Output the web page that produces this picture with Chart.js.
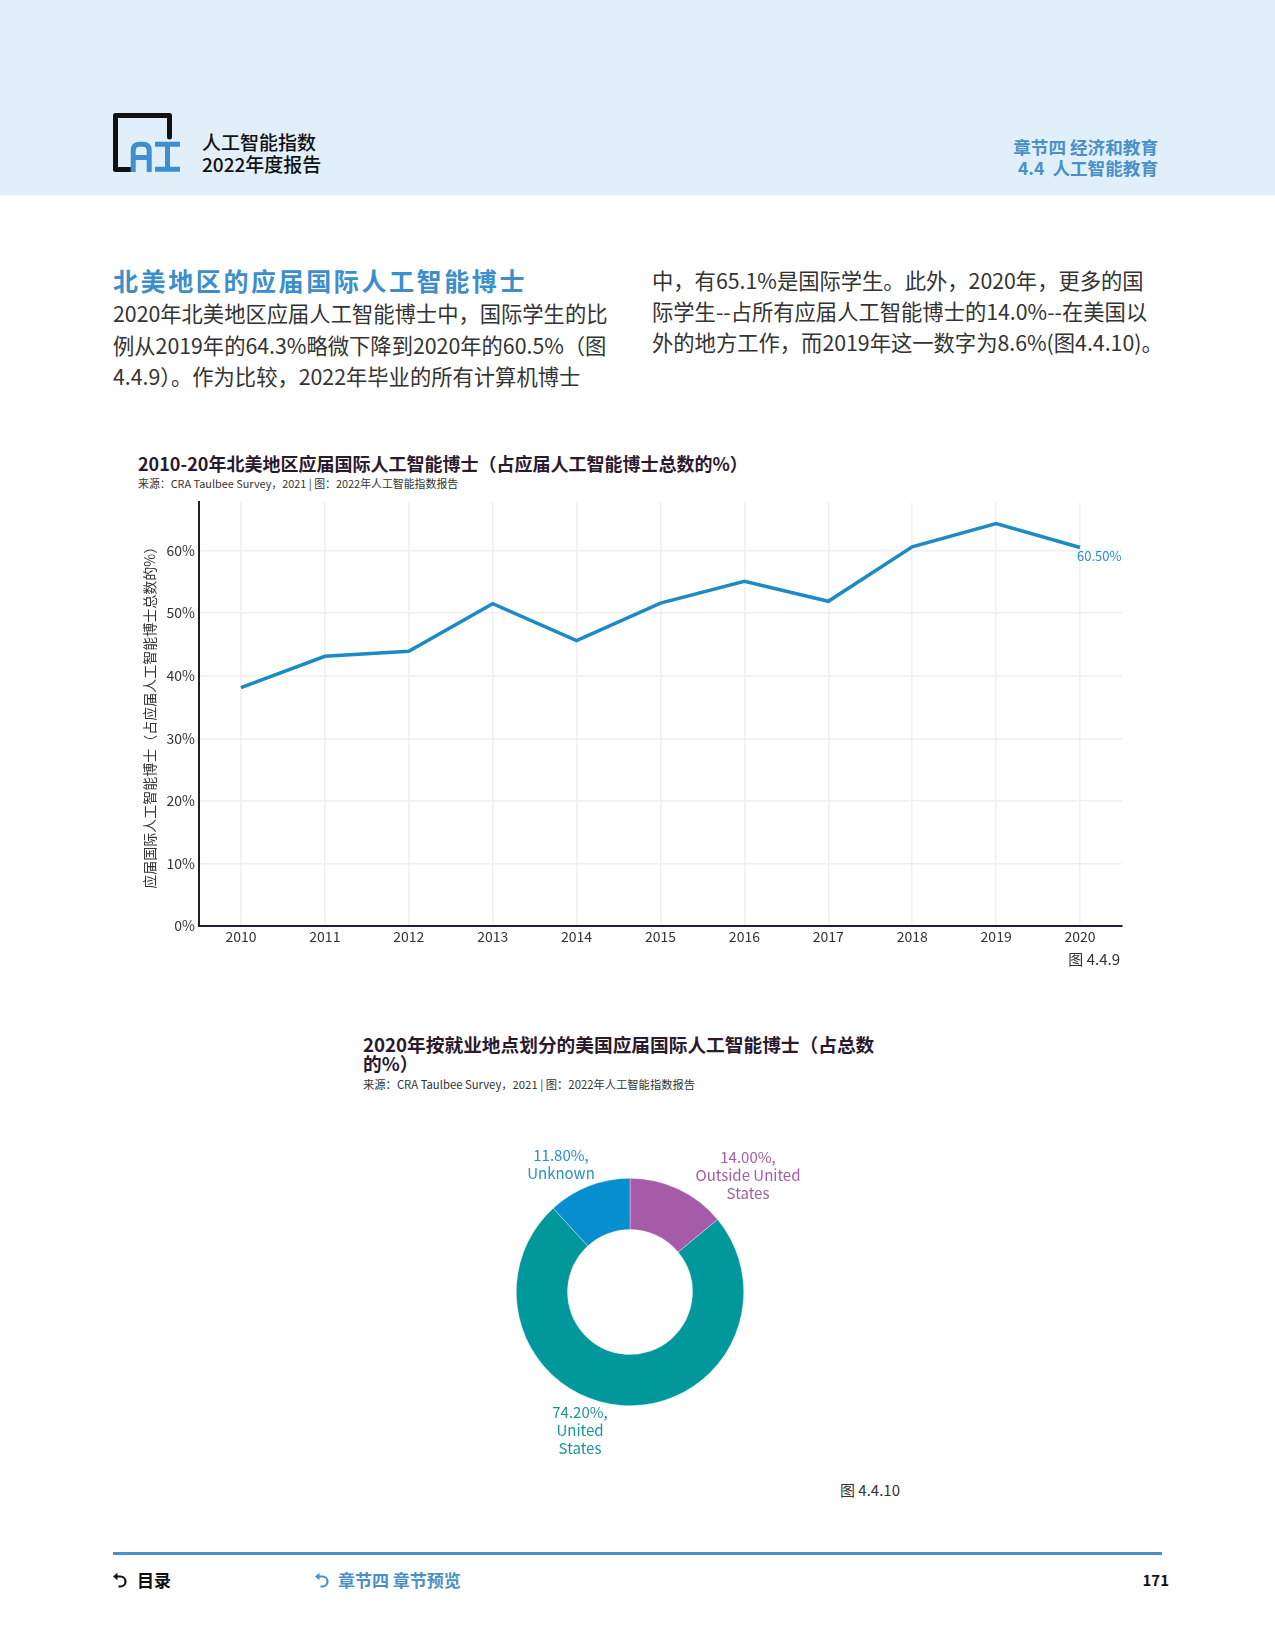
<!DOCTYPE html>
<html>
<head>
<meta charset="utf-8">
<script src="https://cdn.jsdelivr.net/npm/chart.js@4.4.1/dist/chart.umd.min.js"></script>
<style>
  html, body { margin:0; padding:0; background:#fff; }
  body { width:1275px; height:1650px; position:relative; overflow:hidden; font-family:"Noto Sans CJK SC","Noto Sans",sans-serif; color:#333; }
  .abs { position:absolute; white-space:nowrap; }
  #band { position:absolute; left:0; top:0; width:1275px; height:195px; background:#E1EFFA; }
</style>
</head>
<body>
<div id="band"></div>
<svg class="abs" style="left:111px;top:111px" width="72" height="64" viewBox="0 0 72 64">
  <path d="M19 58.5 H4.5 V4.5 H58.5 V26" fill="none" stroke="#111" stroke-width="5" stroke-linejoin="round" stroke-linecap="round"/>
  <path d="M22.2 61 V39.5 Q22.2 33.2 28.5 33.2 H31.9 Q38.2 33.2 38.2 39.5 V61 M22.2 46.5 H38.2" fill="none" stroke="#3d8fcf" stroke-width="5"/>
  <path d="M44 33.2 H69 M56.5 33.2 V58.2 M44 58.2 H69" fill="none" stroke="#3d8fcf" stroke-width="5"/>
</svg>
<div class="abs" style="left:202px;top:131px;font-size:19px;line-height:22px;color:#111;font-weight:500;">人工智能指数<br>2022年度报告</div>
<div class="abs" style="right:117px;top:136px;font-size:17.6px;line-height:21px;color:#4a90c8;font-weight:700;text-align:right;">章节四 经济和教育<br>4.4&nbsp; 人工智能教育</div>

<div class="abs" style="left:113px;top:264px;font-size:25px;line-height:32px;color:#3d8ecb;font-weight:700;letter-spacing:2.6px;">北美地区的应届国际人工智能博士</div>
<div class="abs" style="left:113px;top:297px;font-size:21.3px;line-height:31.5px;color:#333;">2020年北美地区应届人工智能博士中，国际学生的比<br>例从2019年的64.3%略微下降到2020年的60.5%（图<br>4.4.9）。作为比较，2022年毕业的所有计算机博士</div>
<div class="abs" style="left:652px;top:264px;font-size:21.3px;line-height:31px;color:#333;">中，有65.1%是国际学生。此外，2020年，更多的国<br>际学生--占所有应届人工智能博士的14.0%--在美国以<br>外的地方工作，而2019年这一数字为8.6%(图4.4.10)。</div>

<div class="abs" style="left:138px;top:451px;font-size:18px;line-height:24px;color:#2a1a2e;font-weight:700;">2010-20年北美地区应届国际人工智能博士（占应届人工智能博士总数的%）</div>
<div class="abs" style="left:138px;top:476px;font-size:10.9px;line-height:14px;color:#333;">来源：CRA Taulbee Survey，2021 | 图：2022年人工智能指数报告</div>

<div class="abs" style="left:130px;top:490px;width:1000px;height:466px;"><canvas id="lineChart"></canvas></div>
<div class="abs" style="right:155px;top:950px;font-size:15px;line-height:18px;color:#333;">图 4.4.9</div>

<div class="abs" style="left:363px;top:1034px;font-size:18.7px;line-height:19px;color:#2a1a2e;font-weight:700;">2020年按就业地点划分的美国应届国际人工智能博士（占总数<br>的%）</div>
<div class="abs" style="left:363px;top:1077px;font-size:11.3px;line-height:14px;color:#333;">来源：CRA Taulbee Survey，2021 | 图：2022年人工智能指数报告</div>

<div class="abs" style="left:516px;top:1178px;width:228px;height:228px;"><canvas id="donutChart"></canvas></div>
<div id="donutLabels"></div>
<div class="abs" style="left:840px;top:1481px;font-size:15px;line-height:18px;color:#333;">图 4.4.10</div>

<div class="abs" style="left:113px;top:1552px;width:1049px;height:2.5px;background:#4a90c8;"></div>
<svg class="abs" style="left:112px;top:1572px" width="16" height="18" viewBox="0 0 16 18">
  <path d="M3 4.5 H8.5 A5 5 0 0 1 8.5 14.5 H6.5" fill="none" stroke="#111" stroke-width="2.2"/>
  <path d="M1 4.5 L5.5 0.8 V8.2 Z" fill="#111"/>
</svg>
<div class="abs" style="left:137px;top:1569px;font-size:17px;line-height:22px;color:#111;font-weight:700;">目录</div>
<svg class="abs" style="left:314px;top:1572px" width="16" height="18" viewBox="0 0 16 18">
  <path d="M3 4.5 H8.5 A5 5 0 0 1 8.5 14.5 H6.5" fill="none" stroke="#4a90c8" stroke-width="2.2"/>
  <path d="M1 4.5 L5.5 0.8 V8.2 Z" fill="#4a90c8"/>
</svg>
<div class="abs" style="left:338px;top:1569px;font-size:17px;line-height:22px;color:#4a90c8;font-weight:700;">章节四 章节预览</div>
<div class="abs" style="right:106px;top:1570px;font-size:15px;line-height:20px;color:#111;font-weight:700;">171</div>

<script>
// ---- Data: line chart ----
const years = ['2010','2011','2012','2013','2014','2015','2016','2017','2018','2019','2020'];
const intlShare = [38.1, 43.1, 43.9, 51.5, 45.6, 51.6, 55.1, 51.9, 60.6, 64.3, 60.5];
const yTicks = [0, 10, 20, 30, 40, 50, 60];

// ---- Data: doughnut ----
const locCategories = ['Outside United States', 'United States', 'Unknown'];
const locLabelLines = [['14.00%,', 'Outside United', 'States'], ['74.20%,', 'United', 'States'], ['11.80%,', 'Unknown']];
const locValues = [14.0, 74.2, 11.8];
const locColors = ['#A65BA9', '#00989A', '#078ECE'];
const locTextColors = ['#A35CA6', '#1A9597', '#2A8FC8'];

const FONT = '"Noto Sans CJK SC","Noto Sans",sans-serif';

const lastLabel = {
  id: 'lastLabel',
  afterDatasetsDraw(chart) {
    const meta = chart.getDatasetMeta(0);
    const pt = meta.data[meta.data.length - 1];
    const v = chart.data.datasets[0].data[meta.data.length - 1];
    const ctx = chart.ctx;
    ctx.save();
    ctx.font = '13px ' + FONT;
    ctx.fillStyle = '#2B8FCC';
    ctx.textAlign = 'left';
    ctx.textBaseline = 'middle';
    ctx.fillText(v.toFixed(2) + '%', pt.x - 3, pt.y + 9);
    ctx.restore();
  }
};

new Chart(document.getElementById('lineChart'), {
  type: 'line',
  data: {
    labels: years,
    datasets: [{
      data: intlShare,
      borderColor: '#1B8AC6',
      borderWidth: 3.5,
      pointRadius: 0,
      tension: 0,
      fill: false
    }]
  },
  options: {
    responsive: true,
    maintainAspectRatio: false,
    animation: false,
    layout: { padding: { top: 9, right: 8, left: 0, bottom: 0 } },
    plugins: { legend: { display: false }, tooltip: { enabled: false } },
    scales: {
      x: {
        offset: true,
        grid: { color: '#F0F0F0', lineWidth: 1.5, drawTicks: false, offset: false },
        border: { color: '#2a1a2e', width: 2 },
        ticks: { color: '#333', font: { family: FONT, size: 14 }, padding: 2, maxRotation: 0 },
        afterFit(s) { s.height = 30; }
      },
      y: {
        min: 0, max: 67.7,
        grid: { color: '#F0F0F0', lineWidth: 1.5, drawTicks: false },
        border: { color: '#2a1a2e', width: 2 },
        afterBuildTicks(s) { s.ticks = yTicks.map(v => ({ value: v })); },
        ticks: {
          color: '#333', font: { family: FONT, size: 14 }, padding: 4,
          callback: v => v + '%'
        },
        title: {
          display: true,
          text: '应届国际人工智能博士（占应届人工智能博士总数的%）',
          color: '#333',
          font: { family: FONT, size: 14 },
          padding: { top: 11, bottom: 0 }
        },
        afterFit(s) { s.width = 69; }
      }
    }
  },
  plugins: [lastLabel]
});

new Chart(document.getElementById('donutChart'), {
  type: 'doughnut',
  data: {
    labels: locCategories,
    datasets: [{
      data: locValues,
      backgroundColor: locColors,
      borderColor: 'rgba(255,255,255,0.6)',
      borderWidth: 0.6
    }]
  },
  options: {
    responsive: true,
    maintainAspectRatio: false,
    animation: false,
    cutout: '55%',
    layout: { padding: 0 },
    plugins: { legend: { display: false }, tooltip: { enabled: false } }
  }
});

// slice labels (text from the data arrays)
const labelPos = [
  { cx: 748, top: 1148 },
  { cx: 580, top: 1403 },
  { cx: 561, top: 1146 }
];
const holder = document.getElementById('donutLabels');
locLabelLines.forEach((lines, i) => {
  const d = document.createElement('div');
  d.className = 'abs';
  d.style.cssText = 'left:' + (labelPos[i].cx - 80) + 'px;top:' + labelPos[i].top + 'px;width:160px;text-align:center;font-size:15px;line-height:18px;color:' + locTextColors[i] + ';';
  d.innerHTML = lines.join('<br>');
  holder.appendChild(d);
});
</script>
</body>
</html>
